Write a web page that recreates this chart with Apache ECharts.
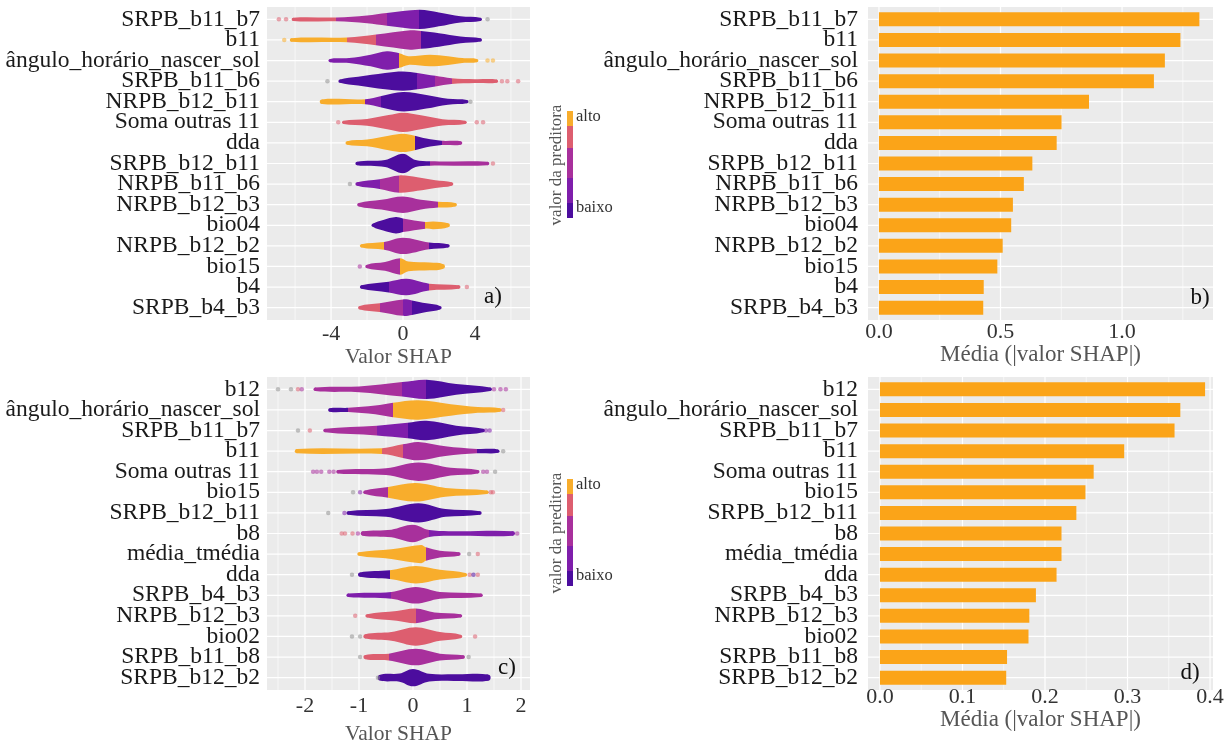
<!DOCTYPE html>
<html><head><meta charset="utf-8">
<script src="https://cdn.jsdelivr.net/npm/echarts@6/dist/echarts.min.js"></script>
<style>html,body{margin:0;padding:0;background:#fff}#c{width:1227px;height:744px}</style>
</head><body><div id="c"></div>
<script>
// ---------- categories ----------
const catsA = ['SRPB_b11_b7','b11','ângulo_horário_nascer_sol','SRPB_b11_b6','NRPB_b12_b11','Soma outras 11','dda','SRPB_b12_b11','NRPB_b11_b6','NRPB_b12_b3','bio04','NRPB_b12_b2','bio15','b4','SRPB_b4_b3'];
const catsC = ['b12','ângulo_horário_nascer_sol','SRPB_b11_b7','b11','Soma outras 11','bio15','SRPB_b12_b11','b8','média_tmédia','dda','SRPB_b4_b3','NRPB_b12_b3','bio02','SRPB_b11_b8','SRPB_b12_b2'];

// ---------- bar values (mean |SHAP|) ----------
const barsB = [1.318,1.24,1.176,1.131,0.864,0.751,0.731,0.631,0.596,0.551,0.544,0.509,0.487,0.431,0.429];
const barsD = [0.394,0.364,0.357,0.296,0.259,0.249,0.238,0.220,0.220,0.214,0.189,0.181,0.180,0.154,0.153];

// ---------- violin profiles: [SHAP value, relative density, predictor level of the stretch to the next point] ----------
// level: 1 baixo ... 5 alto, 0 = grey
const violinA = [
  [[-6.1,0.17,4],[-3.7,0.2,3],[-2.0,0.4,3],[-0.9,0.65,2],[0.9,1.0,1],[2.0,0.72,1],[3.2,0.32,1],[4.3,0.17,0]],
  [[-6.2,0.18,5],[-3.1,0.25,4],[-1.5,0.55,3],[0.4,1.0,3],[1.0,0.92,1],[2.0,0.7,1],[3.2,0.35,1],[4.3,0.17,0]],
  [[-4.05,0.17,2],[-3.0,0.25,2],[-1.8,0.6,2],[-0.9,0.95,2],[-0.2,0.75,5],[0.3,0.45,5],[1.5,0.6,5],[2.5,0.45,5],[3.3,0.25,5],[4.1,0.17,0]],
  [[-3.5,0.17,1],[-2.5,0.45,1],[-1.0,0.85,1],[0.0,1.0,1],[0.8,0.85,2],[1.8,0.55,3],[2.7,0.3,4],[4.0,0.2,4],[5.2,0.16,0]],
  [[-4.5,0.24,5],[-2.1,0.26,2],[-1.2,0.6,1],[0.0,1.0,1],[1.3,0.7,1],[2.5,0.3,1],[3.55,0.17,0]],
  [[-3.3,0.17,4],[-2.0,0.35,4],[-0.8,0.75,4],[0.0,1.0,4],[1.0,0.72,4],[2.2,0.32,4],[3.45,0.17,0]],
  [[-3.1,0.18,5],[-2.0,0.35,5],[-0.8,0.75,5],[0.0,0.95,5],[0.65,0.75,1],[1.3,0.45,1],[2.15,0.22,3],[3.2,0.18,0]],
  [[-2.55,0.18,1],[-1.0,0.35,1],[0.0,1.0,1],[0.7,0.35,1],[1.5,0.22,3],[4.7,0.18,0]],
  [[-2.55,0.18,2],[-1.3,0.5,3],[-0.2,0.9,4],[0.8,0.7,4],[1.8,0.4,4],[2.7,0.18,0]],
  [[-2.45,0.18,3],[-1.2,0.5,3],[0.0,0.85,3],[1.0,0.5,3],[1.95,0.3,5],[2.9,0.18,0]],
  [[-1.65,0.18,1],[-1.1,0.55,1],[-0.4,0.85,1],[0.0,0.7,3],[1.25,0.35,5],[1.7,0.4,5],[2.5,0.2,0]],
  [[-2.3,0.18,5],[-1.05,0.4,3],[0.0,0.85,3],[1.45,0.35,1],[2.5,0.18,0]],
  [[-2.0,0.18,3],[-1.0,0.45,3],[-0.15,0.85,5],[0.3,0.5,5],[1.5,0.4,5],[2.2,0.25,0]],
  [[-2.3,0.18,1],[-0.8,0.55,2],[0.2,0.85,2],[1.45,0.35,4],[3.1,0.18,0]],
  [[-2.4,0.18,4],[-1.3,0.45,3],[0.0,0.85,2],[0.5,0.75,1],[1.3,0.45,1],[2.05,0.18,0]]
];
const violinC = [
  [[-1.81,0.18,3],[-1.0,0.3,3],[-0.2,0.75,2],[0.25,1.0,1],[0.8,0.55,1],[1.43,0.18,0]],
  [[-1.54,0.18,1],[-1.2,0.22,3],[-0.7,0.45,3],[-0.37,0.75,5],[0.1,1.0,5],[0.7,0.6,5],[1.2,0.3,5],[1.61,0.18,0]],
  [[-1.63,0.18,3],[-0.67,0.5,2],[-0.1,0.8,1],[0.25,1.0,1],[0.8,0.5,1],[1.3,0.18,0]],
  [[-2.15,0.22,5],[-0.57,0.3,4],[-0.19,0.7,3],[0.1,0.95,3],[0.6,0.5,3],[1.19,0.22,1],[1.57,0.18,0]],
  [[-1.39,0.18,3],[-0.5,0.35,3],[0.1,0.95,3],[0.7,0.4,3],[1.2,0.18,0]],
  [[-0.89,0.18,3],[-0.46,0.55,5],[0.05,0.95,5],[0.6,0.45,5],[1.37,0.18,0]],
  [[-1.2,0.18,1],[-0.5,0.4,1],[0.1,1.0,1],[0.6,0.4,1],[1.24,0.18,0]],
  [[-0.93,0.22,3],[-0.4,0.4,3],[0.0,0.9,3],[0.3,0.35,2],[0.8,0.24,2],[1.85,0.22,0]],
  [[-1.0,0.18,5],[-0.4,0.5,5],[0.15,0.95,5],[0.24,0.7,3],[0.5,0.35,3],[0.85,0.18,0]],
  [[-0.98,0.22,1],[-0.43,0.45,5],[0.05,0.9,5],[0.5,0.5,5],[0.97,0.18,0]],
  [[-1.2,0.18,2],[-0.4,0.35,3],[0.05,0.85,3],[0.5,0.35,3],[1.26,0.18,0]],
  [[-0.85,0.18,4],[-0.3,0.5,4],[0.05,0.75,3],[0.4,0.35,3],[0.88,0.18,0]],
  [[-0.88,0.22,4],[-0.4,0.45,4],[0.05,0.95,4],[0.5,0.45,4],[0.88,0.18,0]],
  [[-0.88,0.22,4],[-0.45,0.35,3],[0.05,0.85,3],[0.5,0.35,3],[0.93,0.18,0]],
  [[-0.6,0.3,1],[-0.25,0.42,1],[0.0,0.9,1],[0.3,0.4,1],[0.8,0.34,1],[1.38,0.32,0]]
];

// ---------- isolated points: [row, SHAP value, level] ----------
const outliersA = [
  [0,-6.9,4],[0,-6.5,4],[0,4.7,0],[1,-6.6,5],[2,4.7,5],[2,5.0,5],
  [3,-4.2,0],[3,5.5,4],[3,5.8,4],[3,6.4,4],[4,3.75,0],
  [5,-3.6,4],[5,4.1,4],[5,4.45,4],[7,5.0,4],[8,-2.95,0],[12,-2.4,3],[13,3.55,4]
];
const outliersC = [
  [0,-2.5,0],[0,-2.26,0],[0,-2.13,4],[0,-2.06,3],[0,1.5,3],[0,1.62,3],[0,1.72,3],
  [1,1.67,4],[2,-2.13,0],[2,-1.91,4],[2,1.35,2],[2,1.42,2],[3,1.67,0],
  [4,-1.85,3],[4,-1.78,3],[4,-1.7,3],[4,-1.55,3],[4,-1.47,3],[4,1.3,3],[4,1.37,3],[4,1.52,0],
  [5,-1.11,0],[5,-0.98,2],[5,1.44,4],[5,1.48,4],[6,-1.57,0],[6,-1.27,2],
  [7,-1.32,4],[7,-1.26,4],[7,-1.12,4],[7,-1.02,3],[7,1.93,3],
  [8,1.04,0],[8,1.2,4],[9,-1.13,0],[9,1.05,4],[9,1.12,1],[9,1.2,4],
  [11,-1.07,4],[12,-1.13,0],[12,-0.98,0],[12,1.15,4],[13,-0.98,0],[13,1.03,0],[14,-0.65,0]
];

// ---------- ticks ----------
const ticksA = [-4,0,4],            minorA = [-6,-2,2,6];
const ticksB = [0,0.5,1.0],         minorB = [0.25,0.75,1.25];
const ticksC = [-2,-1,0,1,2],       minorC = [-2.5,-1.5,-0.5,0.5,1.5];
const ticksD = [0,0.1,0.2,0.3,0.4], minorD = [0.05,0.15,0.25,0.35];
const rows = catsA.map((_, i) => i);

// ---------- styles / layout ----------
const LEVEL = ['#8f8f8f','#4c0d9e','#7f1eab','#a8309c','#dd5e6f','#f8ad2c'];
const BAR = '#fba418';
const SERIF = '"Liberation Serif","Times New Roman",serif';
const HALF = 0.47;
// panel rectangles (grey area); category band gets ggplot-like 0.6 padding
const PANELS = [[267,7,263,313],[868,7,345,313],[267,377,263,313],[868,377,345,313]];
const ROWPX = 313 / 15.2, PAD = 0.1 * ROWPX;

const chart = echarts.init(document.getElementById('c'));

function gridSeries(gi, ticks, minor) {
  const data = [];
  ticks.forEach(v => data.push([v, 0, 0]));
  minor.forEach(v => data.push([v, 0, 1]));
  rows.forEach(v => data.push([0, v, 2]));
  return {
    type: 'custom', xAxisIndex: gi, yAxisIndex: gi, z: 1, silent: true, data,
    renderItem(params, api) {
      const cs = params.coordSys, k = api.value(2);
      const pt = api.coord([api.value(0), api.value(1)]);
      if (k === 2) {
        return {type:'line', shape:{x1:cs.x, y1:pt[1], x2:cs.x+cs.width, y2:pt[1]}, style:{stroke:'#fff', lineWidth:1.2}};
      }
      return {type:'line', shape:{x1:pt[0], y1:cs.y-PAD, x2:pt[0], y2:cs.y+cs.height+PAD}, style:{stroke:'#fff', lineWidth: k === 0 ? 1.2 : 0.6}};
    }
  };
}

function violinSeries(gi, profiles) {
  return {
    type: 'custom', xAxisIndex: gi, yAxisIndex: gi, z: 2, silent: true,
    data: profiles.map((_, i) => [0, i]),
    renderItem(params, api) {
      const row = api.value(1), p = profiles[row], n = p.length;
      const rowPx = Math.abs(api.size([0, 1])[1]);
      const cy = api.coord([0, row])[1];
      const xs = p.map(q => api.coord([q[0], row])[0]);
      const top = p.map((q, i) => [xs[i], cy - q[1]*HALF*rowPx]);
      const bot = p.map((q, i) => [xs[i], cy + q[1]*HALF*rowPx]).reverse();
      const r0 = p[0][1]*HALF*rowPx, r1 = p[n-1][1]*HALF*rowPx;
      const X0 = xs[0] - r0, X1 = xs[n-1] + r1, W = X1 - X0;
      const stops = [];
      for (let j = 0; j < n - 1; j++) {
        const c = LEVEL[p[j][2]];
        const o0 = j === 0 ? 0 : (xs[j] - X0) / W;
        const o1 = j === n - 2 ? 1 : (xs[j+1] - X0) / W;
        stops.push({offset:o0, color:c}, {offset:o1, color:c});
      }
      const fill = {type:'linear', x:X0, y:0, x2:X1, y2:0, global:true, colorStops:stops};
      return {type:'group', children:[
        {type:'polygon', shape:{points: top.concat(bot), smooth:0.35}, style:{fill}},
        {type:'circle', shape:{cx:xs[0], cy, r:r0}, style:{fill:LEVEL[p[0][2]]}},
        {type:'circle', shape:{cx:xs[n-1], cy, r:r1}, style:{fill:LEVEL[p[n-2][2]]}}
      ]};
    }
  };
}

function outlierSeries(gi, pts) {
  return {
    type: 'scatter', xAxisIndex: gi, yAxisIndex: gi, z: 3, silent: true,
    data: pts.map(p => [p[1], p[0], p[2]]), symbolSize: 4.5,
    itemStyle: {color: p => LEVEL[p.data[2]], opacity: 0.55}
  };
}

function barSeries(gi, vals) {
  return {
    type: 'custom', xAxisIndex: gi, yAxisIndex: gi, z: 2, silent: true,
    data: vals.map((v, i) => [v, i]),
    renderItem(params, api) {
      const v = api.value(0), row = api.value(1);
      const a = api.coord([0, row]), b = api.coord([v, row]);
      const h = 0.68 * Math.abs(api.size([0, 1])[1]);
      return {type:'rect', shape:{x:a[0], y:a[1]-h/2, width:b[0]-a[0], height:h}, style:{fill:BAR}};
    }
  };
}

function xAx(gi, min, max, ticks, fmt, name, nameSize, labelMargin, nameGap) {
  return {
    type:'value', gridIndex: gi, min, max,
    axisLine:{show:false}, axisTick:{show:false}, splitLine:{show:false},
    axisLabel:{customValues: ticks, formatter: fmt, fontFamily: SERIF, fontSize: 22, color:'#333', margin: labelMargin + PAD, showMinLabel:true, showMaxLabel:true},
    name, nameLocation:'middle', nameGap: nameGap + PAD,
    nameTextStyle:{fontFamily: SERIF, fontSize: nameSize, color:'#555'}
  };
}
function yAx(gi, cats, margin) {
  return {
    type:'category', gridIndex: gi, data: cats, inverse:true, boundaryGap:true,
    axisLine:{show:false}, axisTick:{show:false}, splitLine:{show:false},
    axisLabel:{interval:0, fontFamily: SERIF, fontSize: 23.5, color:'#1a1a1a', margin}
  };
}

function legendGraphics(dy) {
  const segs = [[111,15,5],[126,22,4],[148,30,3],[178,25,2],[203,15,1]];
  const out = segs.map(s => ({type:'rect', shape:{x:567, y:s[0]+dy, width:6, height:s[1]}, style:{fill:LEVEL[s[2]]}}));
  out.push({type:'text', x:576, y:117+dy, style:{text:'alto', font:'16.5px '+SERIF, fill:'#333', verticalAlign:'middle'}});
  out.push({type:'text', x:576, y:208+dy, style:{text:'baixo', font:'16.5px '+SERIF, fill:'#333', verticalAlign:'middle'}});
  out.push({type:'text', x:557, y:165+dy, rotation:Math.PI/2, style:{text:'valor da preditora', font:'17px '+SERIF, fill:'#555', align:'center', verticalAlign:'middle'}});
  return out;
}
function letter(t, x, y) {
  return {type:'text', x, y, z:10, style:{text:t, font:'23px '+SERIF, fill:'#111', align:'center', verticalAlign:'middle'}};
}
const panelBgs = PANELS.map(r => ({type:'rect', z:-10, silent:true, shape:{x:r[0], y:r[1], width:r[2], height:r[3]}, style:{fill:'#ebebeb'}}));

const fmtInt = v => String(v);
const fmt1 = v => v.toFixed(1);

chart.setOption({
  animation: false,
  grid: PANELS.map(r => ({left:r[0], top:r[1]+PAD, width:r[2], height:r[3]-2*PAD, show:false, containLabel:false, outerBoundsMode:'none'})),
  xAxis: [
    xAx(0, -7.56, 7.06, ticksA, fmtInt, 'Valor SHAP', 21.5, 3, 13),
    xAx(1, -0.045, 1.374, ticksB, fmt1, 'Média (|valor SHAP|)', 23, 1, 14),
    xAx(2, -2.704, 2.167, ticksC, fmtInt, 'Valor SHAP', 21.5, 5, 33),
    xAx(3, -0.0145, 0.4036, ticksD, fmt1, 'Média (|valor SHAP|)', 23, -4, 8)
  ],
  yAxis: [yAx(0, catsA, 7), yAx(1, catsA, 10), yAx(2, catsC, 7), yAx(3, catsC, 10)],
  series: [
    gridSeries(0, ticksA, minorA), violinSeries(0, violinA), outlierSeries(0, outliersA),
    gridSeries(1, ticksB, minorB), barSeries(1, barsB),
    gridSeries(2, ticksC, minorC), violinSeries(2, violinC), outlierSeries(2, outliersC),
    gridSeries(3, ticksD, minorD), barSeries(3, barsD)
  ],
  graphic: [].concat(panelBgs, legendGraphics(0), legendGraphics(368), [
    letter('a)', 493, 297), letter('b)', 1200, 298), letter('c)', 507, 668), letter('d)', 1190, 673)
  ])
});
</script></body></html>
